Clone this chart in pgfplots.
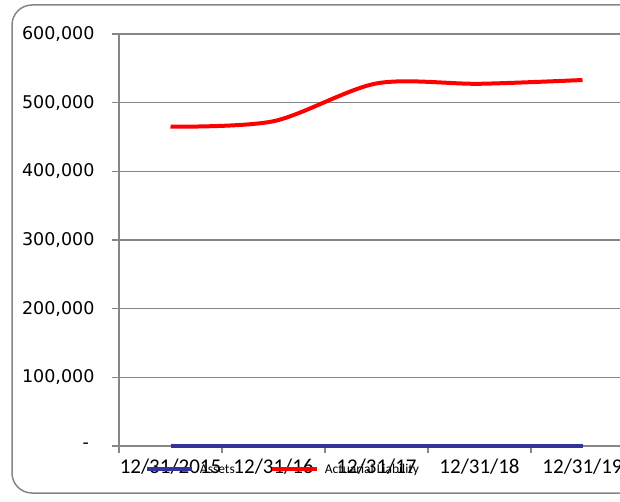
\documentclass[border=0pt]{standalone}
\usepackage{pgfplots}
\pgfplotsset{compat=1.18}
\usepackage{fontspec}
\setmainfont{DejaVu Sans}
\newfontfamily\carlito{Carlito}
\newfontfamily\dejavu{DejaVu Sans}
\definecolor{axgray}{RGB}{134,134,134}
\definecolor{ablue}{RGB}{51,51,153}
\begin{document}
\begin{tikzpicture}[x=1pt,y=1pt]
\clip (0,0) rectangle (620,501);
\fill[white] (0,0) rectangle (620,501);
\draw[axgray, line width=1.5pt, rounded corners=20pt] (12,8) rectangle (650,496);
\begin{axis}[
  at={(119pt,55pt)}, anchor=south west,
  scale only axis, width=515pt, height=412pt,
  xmin=-0.5, xmax=4.5, ymin=0, ymax=600000,
  scaled y ticks=false,
  axis lines=left,
  axis line style={-, axgray, line width=1.5pt},
  ytick={0,100000,200000,300000,400000,500000,600000},
  yticklabels={{-\ \ },{100,000},{200,000},{300,000},{400,000},{500,000},{600,000}},
  yticklabel style={font=\dejavu\fontsize{17.5}{18}\selectfont, xshift=-14pt},
  ymajorgrids,
  grid style={axgray, line width=1.5pt},
  tick style={axgray, line width=1.5pt},
  major tick length=7pt,
  tick align=outside,
  xtick={-0.5,0.5,1.5,2.5,3.5,4.5},
  xticklabels={},
  extra x ticks={0,1,2,3,4},
  extra x tick labels={12/31/2015,12/31/16,12/31/17,12/31/18,12/31/19},
  extra x tick style={major tick length=0pt, xticklabel style={font=\carlito\fontsize{21}{22}\selectfont, yshift=-9pt}},
  clip=false,
  legend columns=2,
  legend style={at={(axis description cs:0.05,-0.057)}, anchor=west, draw=none, fill=none,
     inner sep=0pt, font=\carlito\fontsize{13.5}{14}\selectfont,
     /tikz/every even column/.append style={column sep=29pt},
     nodes={inner xsep=6pt, inner ysep=0pt}},
  legend image code/.code={\draw[#1, line width=4pt] (0pt,0pt) -- (45pt,0pt);},
]
\addplot[ablue, line width=4pt] coordinates {(0,0) (1,0) (2,0) (3,0) (4,0)};
\addlegendentry{Assets}
\addplot[red, line width=4pt, smooth] coordinates {(0,465000) (1,473000) (2,528000) (3,527500) (4,533000)};
\addlegendentry{Actuarial Liability}
\end{axis}
\end{tikzpicture}
\end{document}
